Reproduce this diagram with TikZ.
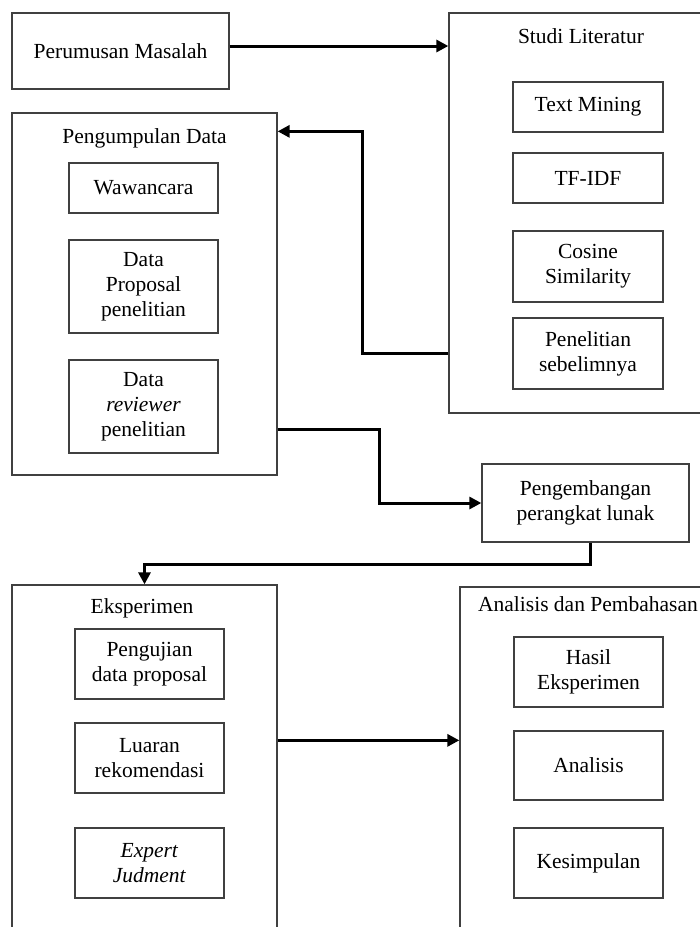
\documentclass[tikz,border=0pt]{standalone}
\usepackage{fontspec}
\setmainfont{Liberation Serif}
\usetikzlibrary{arrows.meta}
\begin{document}
\begin{tikzpicture}[x=1pt,y=-1pt,
  box/.style={draw=black!75, line width=1.3pt, inner sep=0pt, align=center, font=\fontsize{21.5}{25}\selectfont},
  outer/.style={draw=black!75, line width=1.3pt, inner sep=0pt},
  ttl/.style={inner sep=0pt, font=\fontsize{21.5}{25}\selectfont},
  arr/.style={line width=3pt, -{Triangle[length=12pt,width=12pt]}}]
\clip (0,0) rectangle (700,927);
\fill[white] (0,0) rectangle (700,927);

% outer groups
\node[outer, minimum width=271pt, minimum height=400pt] (studi) at (584.5,213) {};
\node[outer, minimum width=265pt, minimum height=362pt] (pengumpulan) at (144.5,294) {};
\node[outer, minimum width=265pt, minimum height=380pt] (eksp) at (144.5,775) {};
\node[outer, minimum width=270pt, minimum height=380pt] (anal) at (595,777) {};

% titles
\node[ttl] (tstudi) at (581,36) {Studi Literatur};
\node[ttl] (tpeng) at (144.5,138) {Pengumpulan Data};
\node[ttl] (teksp) at (142,608) {Eksperimen};
\node[ttl] (tanal) at (588,604) {Analisis dan Pembahasan};

% single boxes
\node[box, minimum width=217pt, minimum height=76pt] (perumusan) at (120.5,51) {Perumusan Masalah};
\node[box, minimum width=207pt, minimum height=78pt] (pengembangan) at (585.5,503) {Pengembangan\\perangkat lunak};

% studi literatur items
\node[box, minimum width=150pt, minimum height=50pt] (textmining) at (588,107) {Text Mining};
\node[box, minimum width=150pt, minimum height=50pt] (tfidf) at (588,178) {TF-IDF};
\node[box, minimum width=150pt, minimum height=71pt] (cosine) at (588,266.5) {Cosine\\Similarity};
\node[box, minimum width=150pt, minimum height=71pt] (sebel) at (588,353.5) {Penelitian\\sebelimnya};

% pengumpulan data items
\node[box, minimum width=149pt, minimum height=50pt] (wawancara) at (143.5,188) {Wawancara};
\node[box, minimum width=149pt, minimum height=93pt] (proposal) at (143.5,286.5) {Data\\Proposal\\penelitian};
\node[box, minimum width=149pt, minimum height=93pt] (reviewer) at (143.5,406.5) {Data\\\textit{reviewer}\\penelitian};

% eksperimen items
\node[box, minimum width=149pt, minimum height=70pt] (pengujian) at (149.5,664) {Pengujian\\data proposal};
\node[box, minimum width=149pt, minimum height=70pt] (luaran) at (149.5,758) {Luaran\\rekomendasi};
\node[box, minimum width=149pt, minimum height=70pt] (expert) at (149.5,863) {\textit{Expert}\\\textit{Judment}};

% analisis items
\node[box, minimum width=149pt, minimum height=70pt] (hasil) at (588.5,672) {Hasil\\Eksperimen};
\node[box, minimum width=149pt, minimum height=69pt] (analisis) at (588.5,765.5) {Analisis};
\node[box, minimum width=149pt, minimum height=70pt] (kesimpulan) at (588.5,863) {Kesimpulan};

% connectors
\draw[arr] ([yshift=5pt]perumusan.east) -- ([yshift=5pt]perumusan.east -| studi.west);
\draw[arr] (studi.west |- sebel.center) -- ++(-86,0) |- ([yshift=-19pt]pengumpulan.north east);
\draw[arr] ([yshift=46pt]pengumpulan.south east) -- ++(102,0) |- (pengembangan.west);
\draw[arr] ([xshift=5pt]pengembangan.south) -- ++(0,22) -| (eksp.north);
\draw[arr] ([yshift=-156pt]eksp.north east) -- ([yshift=-156pt]eksp.north east -| anal.west);
\end{tikzpicture}
\end{document}
